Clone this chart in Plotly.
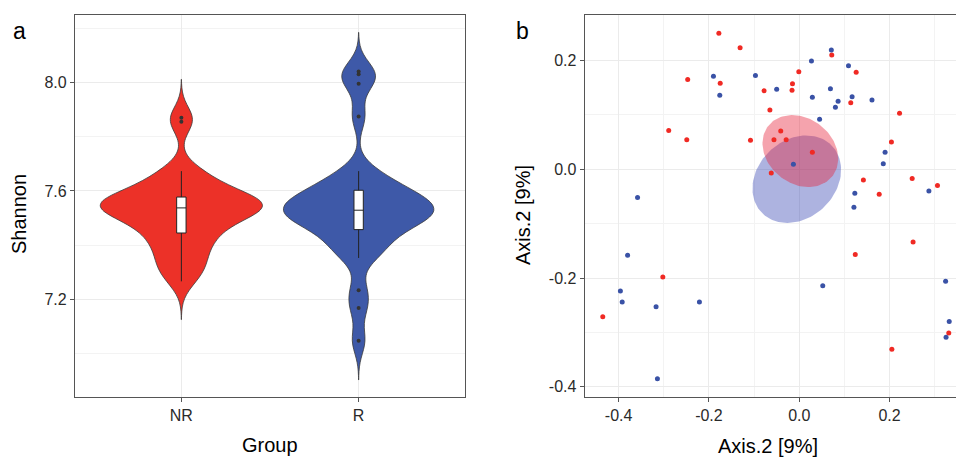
import numpy as np
import plotly.graph_objects as go

# ---------------- data ----------------
groups = ["NR", "R"]

shannon_nr = [7.267, 7.30, 7.32, 7.35, 7.37, 7.40, 7.42, 7.44,
              7.45, 7.47, 7.49, 7.50, 7.51, 7.52, 7.53, 7.535,
              7.54, 7.545, 7.55, 7.555, 7.56, 7.565, 7.57, 7.575,
              7.58, 7.60, 7.62, 7.64, 7.66, 7.673, 7.855, 7.87]

shannon_r = [7.048, 7.169, 7.234, 7.353, 7.38, 7.40, 7.42, 7.455,
             7.465, 7.48, 7.49, 7.50, 7.51, 7.515, 7.522, 7.529,
             7.535, 7.545, 7.555, 7.565, 7.575, 7.585, 7.595, 7.605,
             7.625, 7.65, 7.673, 7.874, 7.995, 8.03, 8.04]

pc_x_nr = [-0.178, -0.131, -0.247, -0.175, -0.078, -0.001, -0.015, -0.016,
           0.072, 0.126, 0.114, -0.065, 0.222, -0.289, -0.249, -0.108,
           -0.041, -0.056, -0.029, 0.029, 0.204, -0.062, 0.142, 0.177,
           0.250, 0.306, 0.252, 0.124, -0.302, -0.435, 0.205, 0.331]
pc_y_nr = [0.250, 0.223, 0.165, 0.158, 0.144, 0.179, 0.157, 0.145,
           0.210, 0.178, 0.122, 0.109, 0.103, 0.071, 0.054, 0.053,
           0.070, 0.054, 0.054, 0.031, 0.050, -0.007, -0.020, -0.046,
           -0.017, -0.030, -0.134, -0.157, -0.198, -0.271, -0.331, -0.301]

pc_x_r = [0.071, 0.027, 0.109, -0.190, -0.097, -0.176, -0.050, 0.029,
          0.069, 0.086, 0.080, 0.117, 0.161, 0.045, -0.013, 0.190,
          0.186, 0.123, 0.121, 0.287, -0.358, -0.380, 0.052, -0.396,
          -0.392, -0.317, -0.221, -0.314, 0.324, 0.332, 0.325]
pc_y_r = [0.219, 0.199, 0.190, 0.171, 0.172, 0.136, 0.147, 0.132,
          0.148, 0.125, 0.114, 0.133, 0.127, 0.092, 0.009, 0.031,
          0.010, -0.044, -0.070, -0.040, -0.052, -0.158, -0.214, -0.224,
          -0.244, -0.253, -0.244, -0.385, -0.206, -0.280, -0.309]

shannon_ticks = [7.2, 7.6, 8.0]
shannon_minor = [7.0, 7.4, 7.8, 8.2]
axis_ticks = [-0.4, -0.2, 0.0, 0.2]
axis_minor = [-0.5, -0.3, -0.1, 0.1, 0.3]

# ---------------- style ----------------
RED = "#EC3128"
BLUE = "#3E59A8"
PT_RED = "#F02A24"
PT_BLUE = "#3A52A6"
FONT = "Liberation Sans, Arial, sans-serif"
BORDER = "#555555"
GRID = "#EBEBEB"
MINOR = "#F3F3F3"

fig = go.Figure()

violin_specs = [
    ("NR", shannon_nr, RED, 0.047, 0.915, 0.058),
    ("R", shannon_r, BLUE, 0.048, 0.848, 0.062),
]
for name, vals, col, bw, w, bxw in violin_specs:
    fig.add_trace(go.Violin(
        x=[name] * len(vals), y=vals, xaxis="x", yaxis="y",
        fillcolor=col, opacity=1,
        line=dict(color="#3a3a3a", width=0.8),
        bandwidth=bw, spanmode="manual",
        span=[min(vals) - 3 * bw, max(vals) + 3 * bw],
        scalemode="width", width=w,
        points="outliers", jitter=0, pointpos=0,
        marker=dict(color="#333333", size=4, line=dict(width=0)),
        box=dict(visible=True, width=bxw, fillcolor="white",
                 line=dict(color="#222222", width=1)),
        meanline=dict(visible=False),
        showlegend=False, hoverinfo="y",
    ))


def conf_ellipse(x, y, chi2=5.991, n=120):
    x = np.asarray(x, float)
    y = np.asarray(y, float)
    cov = np.cov(x, y) / len(x)
    vals, vecs = np.linalg.eigh(cov)
    t = np.linspace(0, 2 * np.pi, n)
    circ = np.stack([np.cos(t), np.sin(t)])
    pts = vecs @ (np.sqrt(vals * chi2)[:, None] * circ)
    return x.mean() + pts[0], y.mean() + pts[1]


ex_r, ey_r = conf_ellipse(pc_x_r, pc_y_r)
ex_nr, ey_nr = conf_ellipse(pc_x_nr, pc_y_nr)
fig.add_trace(go.Scatter(x=ex_r, y=ey_r, xaxis="x2", yaxis="y2", mode="lines",
                         fill="toself", fillcolor="rgba(60,75,180,0.42)",
                         line=dict(width=0), showlegend=False, hoverinfo="skip"))
fig.add_trace(go.Scatter(x=ex_nr, y=ey_nr, xaxis="x2", yaxis="y2", mode="lines",
                         fill="toself", fillcolor="rgba(230,35,60,0.42)",
                         line=dict(width=0), showlegend=False, hoverinfo="skip"))

fig.add_trace(go.Scatter(x=pc_x_nr, y=pc_y_nr, xaxis="x2", yaxis="y2", mode="markers",
                         marker=dict(color=PT_RED, size=5, line=dict(width=0)),
                         name="NR", showlegend=False))
fig.add_trace(go.Scatter(x=pc_x_r, y=pc_y_r, xaxis="x2", yaxis="y2", mode="markers",
                         marker=dict(color=PT_BLUE, size=5, line=dict(width=0)),
                         name="R", showlegend=False))

tickfont = dict(family=FONT, size=16, color="#2a2a2a")
common = dict(showline=True, linecolor=BORDER, linewidth=1.2, ticks="outside",
              ticklen=4, tickcolor=BORDER, tickwidth=1, showgrid=True,
              gridcolor=GRID, gridwidth=1, zeroline=False, tickfont=tickfont)

YDOM = [1 - 397 / 458, 1 - 15 / 458]

fig.update_layout(
    width=956, height=458,
    margin=dict(l=0, r=0, t=0, b=0),
    paper_bgcolor="white", plot_bgcolor="white",
    violinmode="overlay",
    font=dict(family=FONT, color="#000000"),
    xaxis=dict(domain=[75 / 956, 465 / 956], type="category",
               categoryorder="array", categoryarray=groups,
               range=[-0.6, 1.6], mirror=True, anchor="y", **common),
    yaxis=dict(domain=YDOM, range=[6.841, 8.248], tickvals=shannon_ticks,
               ticktext=[f"{v:.1f}" for v in shannon_ticks], mirror=True, anchor="x",
               minor=dict(tickvals=shannon_minor, showgrid=True, gridcolor=MINOR,
                          ticks=""),
               **common),
    xaxis2=dict(domain=[584.7 / 956, 1.0], range=[-0.475, 0.347],
                tickvals=axis_ticks, ticktext=[f"{v:.1f}" for v in axis_ticks],
                mirror=True, anchor="y2",
                minor=dict(tickvals=axis_minor, showgrid=True, gridcolor=MINOR, ticks=""),
                **common),
    yaxis2=dict(domain=YDOM, range=[-0.4187, 0.2834], tickvals=axis_ticks,
                ticktext=[f"{v:.1f}" for v in axis_ticks], mirror=False, anchor="x2",
                minor=dict(tickvals=axis_minor, showgrid=True, gridcolor=MINOR, ticks=""),
                **common),
)

title_font = dict(family=FONT, size=20, color="#000000")
anns = [
    dict(text="a", x=19 / 956, y=1 - 31 / 458, font=dict(family=FONT, size=23)),
    dict(text="b", x=522 / 956, y=1 - 31 / 458, font=dict(family=FONT, size=23)),
    dict(text="Group", x=270 / 956, y=1 - 445 / 458, font=title_font),
    dict(text="Shannon", x=19 / 956, y=1 - 214 / 458, font=title_font, textangle=-90),
    dict(text="Axis.2 [9%]", x=768 / 956, y=1 - 446 / 458, font=title_font),
    dict(text="Axis.2 [9%]", x=523 / 956, y=1 - 215 / 458, font=title_font, textangle=-90),
]
for a in anns:
    fig.add_annotation(xref="paper", yref="paper", xanchor="center", yanchor="middle",
                       showarrow=False, **a)

fig.write_html("out.html")
